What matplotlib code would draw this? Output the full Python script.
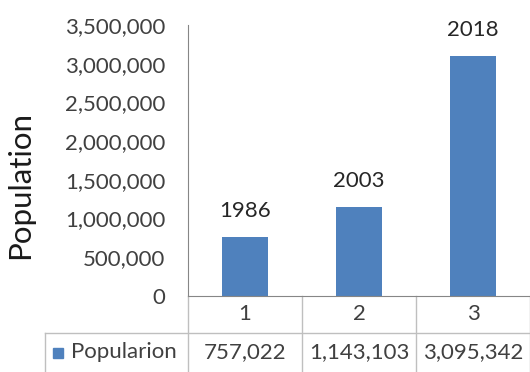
import matplotlib.pyplot as plt
import matplotlib.transforms as mtransforms

# Population by census year
categories = [1, 2, 3]
years = ['1986', '2003', '2018']
population = [757022, 1143103, 3095342]
series_name = 'Popularion'
y_ticks = [0, 500000, 1000000, 1500000, 2000000, 2500000, 3000000, 3500000]

bar_color = '#4F81BD'
text_color = '#404040'
grid_color = '#BFBFBF'
W, H = 530, 372

plt.rcParams['font.family'] = ['Lato', 'DejaVu Sans']

fig = plt.figure(figsize=(W / 100, H / 100), dpi=100)
# axes box in pixel terms: left 188, right 530, top 25, zero line 296
ax = fig.add_axes([188 / W, 1 - 296 / H, (530 - 188) / W, (296 - 25) / H])

ax.bar(categories, population, width=0.4, color=bar_color)
ax.set_xlim(0.5, 3.5)
ax.set_ylim(0, 3500000)
ax.set_yticks(y_ticks)
ax.set_yticklabels([f'{v:,}' for v in y_ticks], fontsize=16, color=text_color)
ax.tick_params(axis='y', length=0, pad=16.5)
ax.set_xticks([])

for side in ['top', 'right']:
    ax.spines[side].set_visible(False)
ax.spines['left'].set_color('#868686')
ax.spines['bottom'].set_color('#868686')


def fy(y):
    return 1 - y / H


ax.set_ylabel('Population', fontsize=22.5, color='#1a1a1a')
ax.yaxis.set_label_coords(34 / W, fy(185), transform=fig.transFigure)

# year labels above each bar
for x, v, yr in zip(categories, population, years):
    ax.annotate(yr, (x, v), xytext=(0, 12), textcoords='offset points',
                ha='center', va='bottom', fontsize=16, color='#262626')

# data table under the plot: x in data units, y in figure pixels
tr = mtransforms.blended_transform_factory(ax.transData, fig.transFigure)

row1_top, row2_top, row2_bot = 296, 333, 372
for b in [0.5, 1.5, 2.5, 3.5]:
    ax.plot([b, b], [fy(row1_top), fy(row2_bot)], transform=tr, color=grid_color,
            lw=1, clip_on=False)
fig.add_artist(plt.Line2D([45 / W, 1], [fy(row2_top), fy(row2_top)],
                          transform=fig.transFigure, color=grid_color, lw=1))
fig.add_artist(plt.Line2D([45 / W, 45 / W], [fy(row2_top), fy(row2_bot)],
                          transform=fig.transFigure, color=grid_color, lw=1))

for x, v in zip(categories, population):
    ax.text(x, fy((row1_top + row2_top) / 2), str(x), transform=tr, ha='center',
            va='center', fontsize=16, color=text_color)
    ax.text(x, fy((row2_top + row2_bot) / 2), f'{v:,}', transform=tr, ha='center',
            va='center', fontsize=16, color=text_color)

# legend key in the row header cell
fig.add_artist(plt.Rectangle((53 / W, fy(358)), 10 / W, 10 / H,
                             transform=fig.transFigure, color=bar_color))
fig.text(71 / W, fy((row2_top + row2_bot) / 2), series_name, ha='left', va='center',
         fontsize=16, color=text_color)

fig.savefig('out.png', dpi=100)
